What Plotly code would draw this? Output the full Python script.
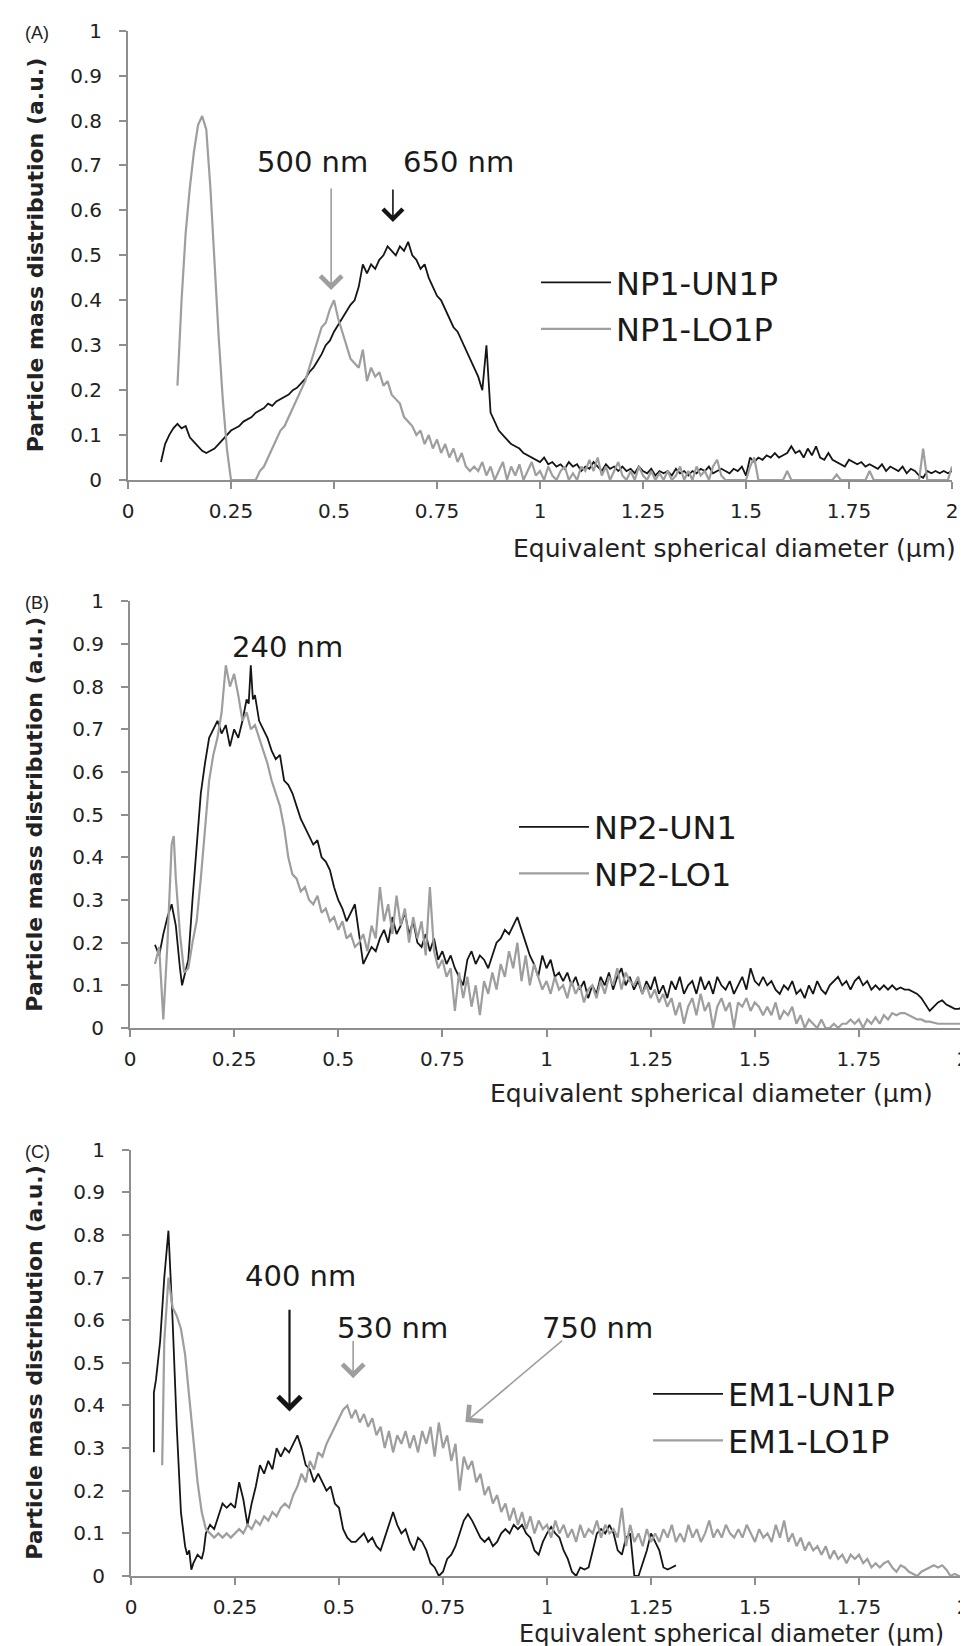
import plotly.graph_objects as go

# ---------------- DATA ----------------
TICK_X = [0, 0.25, 0.5, 0.75, 1, 1.25, 1.5, 1.75, 2]
TICK_X_TEXT = ["0", "0.25", "0.5", "0.75", "1", "1.25", "1.5", "1.75", "2"]
TICK_Y = [0, 0.1, 0.2, 0.3, 0.4, 0.5, 0.6, 0.7, 0.8, 0.9, 1]
TICK_Y_TEXT = ["0", "0.1", "0.2", "0.3", "0.4", "0.5", "0.6", "0.7", "0.8", "0.9", "1"]

# Panel A : NP1-UN1P (black)
A_UN_X = [0.08, 0.09, 0.10, 0.11, 0.12, 0.13, 0.14, 0.15, 0.16, 0.17, 0.18, 0.19, 0.20, 0.21, 0.22, 0.23, 0.24, 0.25,
          0.26, 0.27, 0.28, 0.29, 0.30, 0.31, 0.32, 0.33, 0.34, 0.35, 0.36, 0.37, 0.38, 0.39, 0.40, 0.41, 0.42, 0.43,
          0.44, 0.45, 0.46, 0.47, 0.48, 0.49, 0.50, 0.51, 0.52, 0.53, 0.54, 0.55, 0.56, 0.57, 0.58, 0.59, 0.60, 0.61,
          0.62, 0.63, 0.64, 0.65, 0.66, 0.67, 0.68, 0.69, 0.70, 0.71, 0.72, 0.73, 0.74, 0.75, 0.76, 0.77, 0.78, 0.79,
          0.80, 0.81, 0.82, 0.83, 0.84, 0.85, 0.86, 0.87, 0.88, 0.89, 0.90, 0.91, 0.92, 0.93, 0.94, 0.95, 0.96, 0.97,
          0.98, 0.99, 1.00, 1.01, 1.02, 1.03, 1.04, 1.05, 1.06, 1.07, 1.08, 1.09, 1.10, 1.11, 1.12, 1.13, 1.14, 1.15,
          1.16, 1.17, 1.18, 1.19, 1.20, 1.21, 1.22, 1.23, 1.24, 1.25, 1.26, 1.27, 1.28, 1.29, 1.30, 1.31, 1.32, 1.33,
          1.34, 1.35, 1.36, 1.37, 1.38, 1.39, 1.40, 1.41, 1.42, 1.43, 1.44, 1.45, 1.46, 1.47, 1.48, 1.49, 1.50, 1.51,
          1.52, 1.53, 1.54, 1.55, 1.56, 1.57, 1.58, 1.59, 1.60, 1.61, 1.62, 1.63, 1.64, 1.65, 1.66, 1.67, 1.68, 1.69,
          1.70, 1.71, 1.72, 1.73, 1.74, 1.75, 1.76, 1.77, 1.78, 1.79, 1.80, 1.81, 1.82, 1.83, 1.84, 1.85, 1.86, 1.87,
          1.88, 1.89, 1.90, 1.91, 1.92, 1.93, 1.94, 1.95, 1.96, 1.97, 1.98, 1.99, 2.00]
A_UN_Y = [0.04, 0.08, 0.10, 0.115, 0.125, 0.115, 0.12, 0.095, 0.085, 0.075, 0.065, 0.06, 0.065, 0.07, 0.08, 0.09, 0.10, 0.11,
          0.115, 0.12, 0.13, 0.135, 0.14, 0.15, 0.155, 0.16, 0.17, 0.165, 0.175, 0.18, 0.185, 0.19, 0.20, 0.205, 0.215, 0.225,
          0.24, 0.25, 0.265, 0.28, 0.30, 0.31, 0.33, 0.345, 0.36, 0.375, 0.39, 0.40, 0.43, 0.48, 0.46, 0.48, 0.47, 0.49,
          0.50, 0.52, 0.51, 0.50, 0.52, 0.51, 0.53, 0.50, 0.49, 0.47, 0.48, 0.45, 0.43, 0.41, 0.40, 0.38, 0.36, 0.34,
          0.33, 0.31, 0.29, 0.27, 0.25, 0.23, 0.20, 0.30, 0.15, 0.13, 0.11, 0.10, 0.09, 0.08, 0.075, 0.07, 0.06, 0.055,
          0.05, 0.045, 0.04, 0.05, 0.035, 0.04, 0.03, 0.035, 0.025, 0.04, 0.03, 0.035, 0.02, 0.03, 0.025, 0.04, 0.03, 0.02,
          0.035, 0.025, 0.03, 0.02, 0.03, 0.02, 0.025, 0.015, 0.03, 0.02, 0.015, 0.025, 0.01, 0.02, 0.015, 0.02, 0.01, 0.025,
          0.015, 0.02, 0.01, 0.02, 0.015, 0.025, 0.02, 0.03, 0.015, 0.02, 0.025, 0.02, 0.015, 0.025, 0.02, 0.03, 0.01, 0.05,
          0.04, 0.05, 0.045, 0.055, 0.05, 0.06, 0.05, 0.055, 0.06, 0.075, 0.06, 0.065, 0.05, 0.07, 0.055, 0.075, 0.05, 0.045,
          0.06, 0.045, 0.04, 0.035, 0.03, 0.045, 0.04, 0.035, 0.04, 0.03, 0.035, 0.03, 0.025, 0.035, 0.02, 0.03, 0.025, 0.02,
          0.03, 0.015, 0.025, 0.02, 0.01, 0.005, 0.02, 0.015, 0.02, 0.015, 0.02, 0.015, 0.02]

# Panel A : NP1-LO1P (grey)
A_LO_X = [0.12, 0.13, 0.14, 0.15, 0.16, 0.17, 0.18, 0.19, 0.20, 0.21, 0.22, 0.23, 0.24, 0.25, 0.26, 0.27, 0.28, 0.29,
          0.30, 0.31, 0.32, 0.33, 0.34, 0.35, 0.36, 0.37, 0.38, 0.39, 0.40, 0.41, 0.42, 0.43, 0.44, 0.45, 0.46, 0.47,
          0.48, 0.49, 0.50, 0.51, 0.52, 0.53, 0.54, 0.55, 0.56, 0.57, 0.58, 0.59, 0.60, 0.61, 0.62, 0.63, 0.64, 0.65,
          0.66, 0.67, 0.68, 0.69, 0.70, 0.71, 0.72, 0.73, 0.74, 0.75, 0.76, 0.77, 0.78, 0.79, 0.80, 0.81, 0.82, 0.83,
          0.84, 0.85, 0.86, 0.87, 0.88, 0.89, 0.90, 0.91, 0.92, 0.93, 0.94, 0.95, 0.96, 0.97, 0.98, 0.99, 1.00, 1.01,
          1.02, 1.03, 1.04, 1.05, 1.06, 1.07, 1.08, 1.09, 1.10, 1.11, 1.12, 1.13, 1.14, 1.15, 1.16, 1.17, 1.18, 1.19,
          1.20, 1.21, 1.22, 1.23, 1.24, 1.25, 1.26, 1.27, 1.28, 1.29, 1.30, 1.31, 1.32, 1.33, 1.34, 1.35, 1.36, 1.37,
          1.38, 1.39, 1.40, 1.41, 1.42, 1.43, 1.44, 1.45, 1.50, 1.51, 1.52, 1.53, 1.59, 1.60, 1.61, 1.71, 1.72, 1.73,
          1.79, 1.80, 1.81, 1.92, 1.93, 1.94, 1.99, 2.00]
A_LO_Y = [0.21, 0.40, 0.55, 0.65, 0.73, 0.79, 0.81, 0.78, 0.65, 0.48, 0.32, 0.18, 0.07, 0.0, 0.0, 0.0, 0.0, 0.0,
          0.0, 0.0, 0.02, 0.03, 0.05, 0.07, 0.09, 0.11, 0.12, 0.14, 0.16, 0.18, 0.20, 0.22, 0.25, 0.28, 0.31, 0.34,
          0.35, 0.38, 0.40, 0.36, 0.33, 0.30, 0.27, 0.26, 0.25, 0.29, 0.22, 0.25, 0.23, 0.24, 0.21, 0.22, 0.19, 0.18,
          0.17, 0.14, 0.13, 0.12, 0.10, 0.11, 0.08, 0.10, 0.07, 0.09, 0.06, 0.08, 0.05, 0.07, 0.04, 0.06, 0.03, 0.02,
          0.03, 0.02, 0.04, 0.01, 0.03, 0.0, 0.02, 0.04, 0.0, 0.03, 0.01, 0.035, 0.0, 0.02, 0.04, 0.01, 0.02, 0.0,
          0.03, 0.01, 0.0, 0.02, 0.03, 0.0, 0.015, 0.0, 0.03, 0.02, 0.045, 0.02, 0.05, 0.01, 0.03, 0.0, 0.02, 0.04,
          0.01, 0.0, 0.02, 0.0, 0.03, 0.01, 0.0, 0.02, 0.0, 0.015, 0.0, 0.02, 0.0, 0.01, 0.03, 0.0, 0.02, 0.0,
          0.03, 0.01, 0.02, 0.0, 0.03, 0.045, 0.01, 0.0, 0.0, 0.03, 0.05, 0.0, 0.0, 0.02, 0.0, 0.0, 0.012, 0.0,
          0.0, 0.02, 0.0, 0.0, 0.07, 0.0, 0.0, 0.03]

# Panel B : NP2-UN1 (black)
B_UN_X = [0.06, 0.07, 0.08, 0.09, 0.10, 0.11, 0.12, 0.125, 0.13, 0.14, 0.15, 0.16, 0.17, 0.18, 0.19, 0.20, 0.21, 0.22,
          0.23, 0.24, 0.25, 0.26, 0.27, 0.28, 0.285, 0.29, 0.295, 0.30, 0.31, 0.32, 0.33, 0.34, 0.35, 0.36, 0.37, 0.38,
          0.39, 0.40, 0.41, 0.42, 0.43, 0.44, 0.45, 0.46, 0.47, 0.48, 0.49, 0.50, 0.51, 0.52, 0.53, 0.54, 0.55, 0.56,
          0.57, 0.58, 0.59, 0.60, 0.61, 0.62, 0.63, 0.64, 0.65, 0.66, 0.67, 0.68, 0.69, 0.70, 0.71, 0.72, 0.73, 0.74,
          0.75, 0.76, 0.77, 0.78, 0.79, 0.80, 0.81, 0.82, 0.83, 0.84, 0.85, 0.86, 0.87, 0.88, 0.89, 0.90, 0.91, 0.92,
          0.93, 0.94, 0.95, 0.96, 0.97, 0.98, 0.99, 1.00, 1.01, 1.02, 1.03, 1.04, 1.05, 1.06, 1.07, 1.08, 1.09, 1.10,
          1.11, 1.12, 1.13, 1.14, 1.15, 1.16, 1.17, 1.18, 1.19, 1.20, 1.21, 1.22, 1.23, 1.24, 1.25, 1.26, 1.27, 1.28,
          1.29, 1.30, 1.31, 1.32, 1.33, 1.34, 1.35, 1.36, 1.37, 1.38, 1.39, 1.40, 1.41, 1.42, 1.43, 1.44, 1.45, 1.46,
          1.47, 1.48, 1.49, 1.50, 1.51, 1.52, 1.53, 1.54, 1.55, 1.56, 1.57, 1.58, 1.59, 1.60, 1.61, 1.62, 1.63, 1.64,
          1.65, 1.66, 1.67, 1.68, 1.69, 1.70, 1.71, 1.72, 1.73, 1.74, 1.75, 1.76, 1.77, 1.78, 1.79, 1.80, 1.81, 1.82,
          1.83, 1.84, 1.85, 1.86, 1.87, 1.88, 1.89, 1.90, 1.91, 1.92, 1.93, 1.94, 1.95, 1.96, 1.97, 1.98, 1.99, 2.00]
B_UN_Y = [0.195, 0.17, 0.22, 0.26, 0.29, 0.24, 0.14, 0.10, 0.12, 0.16, 0.30, 0.42, 0.55, 0.62, 0.68, 0.70, 0.72, 0.69,
          0.71, 0.66, 0.70, 0.68, 0.72, 0.77, 0.76, 0.85, 0.77, 0.78, 0.72, 0.70, 0.68, 0.65, 0.63, 0.64, 0.58, 0.57,
          0.55, 0.52, 0.49, 0.47, 0.45, 0.43, 0.44, 0.40, 0.39, 0.37, 0.33, 0.30, 0.28, 0.25, 0.27, 0.29, 0.22, 0.15,
          0.17, 0.19, 0.18, 0.21, 0.23, 0.20, 0.26, 0.22, 0.24, 0.27, 0.22, 0.25, 0.20, 0.19, 0.22, 0.18, 0.21, 0.16,
          0.18, 0.15, 0.17, 0.14, 0.12, 0.10, 0.16, 0.18, 0.15, 0.17, 0.16, 0.14, 0.17, 0.20, 0.21, 0.23, 0.22, 0.24,
          0.26, 0.23, 0.20, 0.17, 0.15, 0.12, 0.17, 0.14, 0.16, 0.12, 0.13, 0.11, 0.13, 0.10, 0.12, 0.09, 0.11, 0.07,
          0.10, 0.08, 0.12, 0.10, 0.13, 0.09, 0.12, 0.14, 0.10, 0.12, 0.09, 0.11, 0.08, 0.11, 0.09, 0.12, 0.08, 0.10,
          0.07, 0.11, 0.09, 0.12, 0.08, 0.10, 0.11, 0.08, 0.12, 0.09, 0.11, 0.08, 0.12, 0.10, 0.09, 0.11, 0.08, 0.10,
          0.12, 0.09, 0.14, 0.11, 0.10, 0.12, 0.10, 0.11, 0.09, 0.08, 0.10, 0.09, 0.11, 0.08, 0.09, 0.07, 0.10, 0.08,
          0.11, 0.09, 0.08, 0.10, 0.11, 0.12, 0.10, 0.11, 0.09, 0.11, 0.12, 0.10, 0.11, 0.09, 0.10, 0.09, 0.10, 0.09,
          0.10, 0.09, 0.095, 0.09, 0.09, 0.085, 0.08, 0.07, 0.055, 0.04, 0.05, 0.06, 0.065, 0.055, 0.05, 0.045, 0.045, 0.05]

# Panel B : NP2-LO1 (grey)
B_LO_X = [0.06, 0.07, 0.08, 0.09, 0.10, 0.105, 0.11, 0.12, 0.13, 0.14, 0.15, 0.16, 0.17, 0.18, 0.19, 0.20, 0.21, 0.22,
          0.23, 0.24, 0.25, 0.26, 0.27, 0.28, 0.29, 0.30, 0.31, 0.32, 0.33, 0.34, 0.35, 0.36, 0.37, 0.38, 0.39, 0.40,
          0.41, 0.42, 0.43, 0.44, 0.45, 0.46, 0.47, 0.48, 0.49, 0.50, 0.51, 0.52, 0.53, 0.54, 0.55, 0.56, 0.57, 0.58,
          0.59, 0.60, 0.61, 0.62, 0.63, 0.64, 0.65, 0.66, 0.67, 0.68, 0.69, 0.70, 0.71, 0.72, 0.73, 0.74, 0.75, 0.76,
          0.77, 0.78, 0.79, 0.80, 0.81, 0.82, 0.83, 0.84, 0.85, 0.86, 0.87, 0.88, 0.89, 0.90, 0.91, 0.92, 0.93, 0.94,
          0.95, 0.96, 0.97, 0.98, 0.99, 1.00, 1.01, 1.02, 1.03, 1.04, 1.05, 1.06, 1.07, 1.08, 1.09, 1.10, 1.11, 1.12,
          1.13, 1.14, 1.15, 1.16, 1.17, 1.18, 1.19, 1.20, 1.21, 1.22, 1.23, 1.24, 1.25, 1.26, 1.27, 1.28, 1.29, 1.30,
          1.31, 1.32, 1.33, 1.34, 1.35, 1.36, 1.37, 1.38, 1.39, 1.40, 1.41, 1.42, 1.43, 1.44, 1.45, 1.46, 1.47, 1.48,
          1.49, 1.50, 1.51, 1.52, 1.53, 1.54, 1.55, 1.56, 1.57, 1.58, 1.59, 1.60, 1.61, 1.62, 1.63, 1.64, 1.65, 1.66,
          1.67, 1.68, 1.69, 1.70, 1.71, 1.72, 1.73, 1.74, 1.75, 1.76, 1.77, 1.78, 1.79, 1.80, 1.81, 1.82, 1.83, 1.84,
          1.85, 1.86, 1.87, 1.88, 1.89, 1.90, 1.91, 1.92, 1.93, 1.94, 1.95, 1.96, 1.97, 1.98, 1.99, 2.00]
B_LO_Y = [0.15, 0.19, 0.02, 0.20, 0.43, 0.45, 0.35, 0.22, 0.13, 0.14, 0.20, 0.25, 0.35, 0.47, 0.58, 0.64, 0.68, 0.74,
          0.85, 0.80, 0.83, 0.78, 0.72, 0.74, 0.70, 0.71, 0.68, 0.65, 0.62, 0.58, 0.55, 0.52, 0.47, 0.40, 0.36, 0.35,
          0.32, 0.33, 0.30, 0.29, 0.31, 0.27, 0.28, 0.25, 0.26, 0.23, 0.25, 0.21, 0.22, 0.19, 0.20, 0.22, 0.18, 0.24,
          0.21, 0.33, 0.25, 0.29, 0.22, 0.31, 0.24, 0.28, 0.20, 0.26, 0.21, 0.25, 0.17, 0.33, 0.18, 0.14, 0.16, 0.12,
          0.14, 0.04, 0.13, 0.07, 0.12, 0.05, 0.10, 0.03, 0.11, 0.08, 0.13, 0.09, 0.15, 0.12, 0.18, 0.14, 0.20, 0.11,
          0.17, 0.10, 0.15, 0.12, 0.09, 0.11, 0.08, 0.12, 0.09, 0.10, 0.07, 0.11, 0.08, 0.10, 0.06, 0.09, 0.10, 0.07,
          0.11, 0.08, 0.12, 0.10, 0.14, 0.09, 0.13, 0.11, 0.10, 0.12, 0.08, 0.10, 0.07, 0.09, 0.06, 0.08, 0.05, 0.07,
          0.03, 0.06, 0.01, 0.05, 0.07, 0.03, 0.08, 0.04, 0.06, 0.00, 0.05, 0.07, 0.04, 0.06, 0.00, 0.06, 0.05, 0.07,
          0.04, 0.06, 0.05, 0.03, 0.05, 0.03, 0.06, 0.02, 0.04, 0.03, 0.05, 0.01, 0.03, 0.00, 0.02, 0.01, 0.00, 0.02,
          0.00, 0.00, 0.01, 0.00, 0.01, 0.01, 0.02, 0.01, 0.02, 0.00, 0.02, 0.01, 0.025, 0.01, 0.03, 0.02, 0.035, 0.03,
          0.035, 0.035, 0.03, 0.025, 0.02, 0.02, 0.015, 0.015, 0.012, 0.01, 0.01, 0.01, 0.01, 0.01, 0.01, 0.01]

# Panel C : EM1-UN1P (black)
C_UN_X = [0.055, 0.055, 0.06, 0.07, 0.08, 0.09, 0.10, 0.11, 0.12, 0.13, 0.135, 0.14, 0.145, 0.15, 0.16, 0.17, 0.175, 0.18,
          0.19, 0.20, 0.21, 0.22, 0.23, 0.24, 0.25, 0.26, 0.27, 0.28, 0.29, 0.30, 0.31, 0.32, 0.33, 0.34, 0.35, 0.36,
          0.37, 0.38, 0.39, 0.40, 0.41, 0.42, 0.43, 0.44, 0.45, 0.46, 0.47, 0.48, 0.49, 0.50, 0.51, 0.52, 0.53, 0.54,
          0.55, 0.56, 0.57, 0.58, 0.59, 0.60, 0.61, 0.62, 0.63, 0.64, 0.65, 0.66, 0.67, 0.68, 0.69, 0.70, 0.71, 0.72,
          0.73, 0.74, 0.75, 0.76, 0.77, 0.78, 0.79, 0.80, 0.81, 0.82, 0.83, 0.84, 0.85, 0.86, 0.87, 0.88, 0.89, 0.90,
          0.91, 0.92, 0.93, 0.94, 0.95, 0.96, 0.97, 0.98, 0.99, 1.00, 1.01, 1.02, 1.03, 1.04, 1.05, 1.06, 1.07, 1.08,
          1.09, 1.10, 1.11, 1.12, 1.13, 1.14, 1.15, 1.16, 1.17, 1.18, 1.19, 1.20, 1.21, 1.22, 1.23, 1.24, 1.25, 1.26,
          1.27, 1.28, 1.29, 1.30, 1.31]
C_UN_Y = [0.29, 0.43, 0.46, 0.55, 0.70, 0.81, 0.60, 0.35, 0.15, 0.07, 0.05, 0.06, 0.015, 0.03, 0.05, 0.04, 0.06, 0.10,
          0.12, 0.11, 0.14, 0.17, 0.16, 0.17, 0.16, 0.22, 0.18, 0.12, 0.17, 0.21, 0.26, 0.24, 0.27, 0.25, 0.30, 0.28,
          0.30, 0.29, 0.31, 0.33, 0.30, 0.26, 0.25, 0.22, 0.24, 0.22, 0.20, 0.21, 0.17, 0.16, 0.11, 0.09, 0.08, 0.08,
          0.09, 0.10, 0.08, 0.09, 0.07, 0.06, 0.09, 0.12, 0.15, 0.12, 0.10, 0.11, 0.08, 0.06, 0.09, 0.08, 0.06, 0.03,
          0.02, 0.00, 0.01, 0.04, 0.05, 0.07, 0.10, 0.13, 0.145, 0.13, 0.11, 0.09, 0.08, 0.09, 0.07, 0.08, 0.10, 0.11,
          0.10, 0.12, 0.11, 0.12, 0.10, 0.09, 0.06, 0.05, 0.08, 0.10, 0.115, 0.10, 0.09, 0.06, 0.04, 0.01, 0.00, 0.02,
          0.015, 0.02, 0.06, 0.10, 0.11, 0.10, 0.12, 0.10, 0.06, 0.05, 0.09, 0.10, 0.00, 0.00, 0.03, 0.06, 0.10, 0.08,
          0.06, 0.02, 0.015, 0.02, 0.025]

# Panel C : EM1-LO1P (grey)
C_LO_X = [0.075, 0.08, 0.09, 0.10, 0.11, 0.12, 0.13, 0.14, 0.15, 0.16, 0.17, 0.18, 0.19, 0.20, 0.21, 0.22, 0.23, 0.24,
          0.25, 0.26, 0.27, 0.28, 0.29, 0.30, 0.31, 0.32, 0.33, 0.34, 0.35, 0.36, 0.37, 0.38, 0.39, 0.40, 0.41, 0.42,
          0.43, 0.44, 0.45, 0.46, 0.47, 0.48, 0.49, 0.50, 0.51, 0.52, 0.53, 0.54, 0.55, 0.56, 0.57, 0.58, 0.59, 0.60,
          0.61, 0.62, 0.63, 0.64, 0.65, 0.66, 0.67, 0.68, 0.69, 0.70, 0.71, 0.72, 0.73, 0.74, 0.75, 0.76, 0.77, 0.78,
          0.79, 0.80, 0.81, 0.82, 0.83, 0.84, 0.85, 0.86, 0.87, 0.88, 0.89, 0.90, 0.91, 0.92, 0.93, 0.94, 0.95, 0.96,
          0.97, 0.98, 0.99, 1.00, 1.01, 1.02, 1.03, 1.04, 1.05, 1.06, 1.07, 1.08, 1.09, 1.10, 1.11, 1.12, 1.13, 1.14,
          1.15, 1.16, 1.17, 1.18, 1.19, 1.20, 1.21, 1.22, 1.23, 1.24, 1.25, 1.26, 1.27, 1.28, 1.29, 1.30, 1.31, 1.32,
          1.33, 1.34, 1.35, 1.36, 1.37, 1.38, 1.39, 1.40, 1.41, 1.42, 1.43, 1.44, 1.45, 1.46, 1.47, 1.48, 1.49, 1.50,
          1.51, 1.52, 1.53, 1.54, 1.55, 1.56, 1.57, 1.58, 1.59, 1.60, 1.61, 1.62, 1.63, 1.64, 1.65, 1.66, 1.67, 1.68,
          1.69, 1.70, 1.71, 1.72, 1.73, 1.74, 1.75, 1.76, 1.77, 1.78, 1.79, 1.80, 1.81, 1.82, 1.83, 1.84, 1.85, 1.86,
          1.87, 1.88, 1.89, 1.90, 1.91, 1.92, 1.93, 1.94, 1.95, 1.96, 1.97, 1.98, 1.99, 2.00]
C_LO_Y = [0.26, 0.55, 0.70, 0.63, 0.61, 0.58, 0.52, 0.42, 0.32, 0.22, 0.15, 0.11, 0.10, 0.09, 0.10, 0.09, 0.10, 0.09,
          0.10, 0.11, 0.10, 0.12, 0.11, 0.13, 0.12, 0.14, 0.13, 0.15, 0.14, 0.16, 0.17, 0.16, 0.19, 0.21, 0.24, 0.22,
          0.27, 0.25, 0.29, 0.28, 0.31, 0.33, 0.35, 0.37, 0.39, 0.40, 0.37, 0.39, 0.36, 0.38, 0.35, 0.37, 0.33, 0.35,
          0.30, 0.34, 0.29, 0.33, 0.31, 0.34, 0.30, 0.33, 0.29, 0.34, 0.31, 0.35, 0.28, 0.36, 0.30, 0.33, 0.27, 0.31,
          0.20, 0.28, 0.25, 0.27, 0.22, 0.24, 0.19, 0.21, 0.17, 0.19, 0.15, 0.17, 0.13, 0.16, 0.12, 0.15, 0.11, 0.14,
          0.10, 0.13, 0.11, 0.12, 0.09, 0.13, 0.10, 0.12, 0.09, 0.11, 0.08, 0.12, 0.09, 0.11, 0.10, 0.13, 0.09, 0.12,
          0.10, 0.11, 0.09, 0.16, 0.07, 0.12, 0.08, 0.10, 0.07, 0.11, 0.08, 0.10, 0.08, 0.11, 0.09, 0.12, 0.08, 0.10,
          0.08, 0.12, 0.09, 0.11, 0.08, 0.10, 0.13, 0.09, 0.11, 0.09, 0.12, 0.10, 0.09, 0.11, 0.09, 0.12, 0.10, 0.08,
          0.11, 0.09, 0.10, 0.08, 0.12, 0.09, 0.13, 0.08, 0.10, 0.07, 0.09, 0.06, 0.08, 0.06, 0.07, 0.05, 0.07, 0.04,
          0.06, 0.04, 0.05, 0.03, 0.05, 0.04, 0.05, 0.03, 0.04, 0.02, 0.03, 0.02, 0.03, 0.035, 0.02, 0.01, 0.025, 0.02,
          0.01, 0.005, 0.0, 0.01, 0.015, 0.02, 0.025, 0.02, 0.025, 0.015, 0.0, 0.005, 0.0, 0.0]

NAMES = ["NP1-UN1P", "NP1-LO1P", "NP2-UN1", "NP2-LO1", "EM1-UN1P", "EM1-LO1P"]
PANEL_LABELS = ["(A)", "(B)", "(C)"]
X_TITLE = "Equivalent spherical diameter (µm)"
Y_TITLE = "Particle mass distribution (a.u.)"

# ---------------- STYLE / LAYOUT ----------------
W, H = 968, 1646
BLACK = "#151515"
GREY = "#9e9e9e"
AXIS = "#8e8e8e"
FONT = "DejaVu Sans"


def px(xp):
    return xp / W


def py(yp):
    return 1 - yp / H


# pixel geometry of each panel: (x0, x2, ytop(=1), ybottom(=0))
PANELS = [(120, 944, 22.7, 472), (122, 955, 593.3, 1020), (123, 955, 1141.7, 1568)]

fig = go.Figure()

series = [(A_UN_X, A_UN_Y, A_LO_X, A_LO_Y), (B_UN_X, B_UN_Y, B_LO_X, B_LO_Y), (C_UN_X, C_UN_Y, C_LO_X, C_LO_Y)]
for i, (ux, uy, lx, ly) in enumerate(series):
    sfx = "" if i == 0 else str(i + 1)
    leg = "legend" if i == 0 else "legend" + str(i + 1)
    fig.add_trace(go.Scatter(x=ux, y=uy, mode="lines", name=NAMES[2 * i],
                             line=dict(color=BLACK, width=1.8), xaxis="x" + sfx, yaxis="y" + sfx,
                             legend=leg, legendgroup=NAMES[2 * i]))
    fig.add_trace(go.Scatter(x=lx, y=ly, mode="lines", name=NAMES[2 * i + 1],
                             line=dict(color=GREY, width=2.2), xaxis="x" + sfx, yaxis="y" + sfx,
                             legend=leg, legendgroup=NAMES[2 * i + 1]))

layout = dict(template="none", width=W, height=H, margin=dict(l=0, r=0, t=0, b=0, autoexpand=False),
              paper_bgcolor="white", plot_bgcolor="white", showlegend=True)

axcommon = dict(showline=True, linecolor=AXIS, linewidth=2, ticks="outside", ticklen=7, tickwidth=2,
                tickcolor=AXIS, showgrid=False, zeroline=False, automargin=False,
                tickfont=dict(family=FONT, size=20, color="#222222"))

annotations = []
for i, (x0, x2, yt, yb) in enumerate(PANELS):
    sfx = "" if i == 0 else str(i + 1)
    layout["xaxis" + sfx] = dict(axcommon, domain=[px(x0), px(x2)], range=[0, 2], tickvals=TICK_X,
                                 ticktext=TICK_X_TEXT, anchor="y" + sfx, ticklabelstandoff=5)
    layout["yaxis" + sfx] = dict(axcommon, domain=[py(yb), py(yt)], range=[0, 1], tickvals=TICK_Y,
                                 ticktext=TICK_Y_TEXT, anchor="x" + sfx, ticklabelstandoff=13)
    # panel label
    annotations.append(dict(text=PANEL_LABELS[i], xref="paper", yref="paper", x=px(29), y=py(yt + 2),
                            showarrow=False, font=dict(family="Liberation Sans", size=18, color="#222"),
                            xanchor="center", yanchor="middle"))
    # y title
    annotations.append(dict(text=Y_TITLE, xref="paper", yref="paper", x=px(27), y=py((yt + yb) / 2),
                            showarrow=False, textangle=-90,
                            font=dict(family=FONT, size=22, color="#222", weight="bold"),
                            xanchor="center", yanchor="middle"))

# x titles (right aligned)
for xr, yc, fs in [(950, 540, 25), (927, 1085, 25), (938, 1626, 24)]:
    annotations.append(dict(text=X_TITLE, xref="paper", yref="paper", x=px(xr), y=py(yc), showarrow=False,
                            xanchor="right", yanchor="middle", font=dict(family=FONT, size=fs, color="#222")))

# peak labels (data coordinates)
LBL = dict(showarrow=False, font=dict(family=FONT, size=29, color="#1a1a1a"), xanchor="center", yanchor="middle")
annotations += [
    dict(LBL, text="500 nm", x=0.447, y=0.708, xref="x", yref="y"),
    dict(LBL, text="650 nm", x=0.801, y=0.708, xref="x", yref="y"),
    dict(LBL, text="240 nm", x=0.377, y=0.893, xref="x2", yref="y2"),
    dict(LBL, text="400 nm", x=0.408, y=0.704, xref="x3", yref="y3"),
    dict(LBL, text="530 nm", x=0.628, y=0.581, xref="x3", yref="y3"),
    dict(LBL, text="750 nm", x=1.122, y=0.581, xref="x3", yref="y3"),
]


def arrow(xh, yh, xt, yt_, ax_, col, wid, size):
    return dict(text="", x=xh, y=yh, ax=xt, ay=yt_, xref="x" + ax_, yref="y" + ax_, axref="x" + ax_,
                ayref="y" + ax_, showarrow=True, arrowhead=4, arrowsize=size, arrowwidth=wid,
                arrowcolor=col, standoff=0, startstandoff=0)


annotations += [
    arrow(0.493, 0.423, 0.493, 0.652, "", GREY, 1.6, 2.6),
    arrow(0.643, 0.574, 0.643, 0.650, "", BLACK, 1.6, 2.4),
    arrow(0.381, 0.386, 0.381, 0.628, "3", BLACK, 2.2, 2.0),
    arrow(0.534, 0.464, 0.534, 0.555, "3", GREY, 1.6, 2.6),
    arrow(0.804, 0.361, 1.040, 0.555, "3", GREY, 1.6, 2.6),
]
layout["annotations"] = annotations

LEG = dict(font=dict(family=FONT, size=32, color="#1a1a1a"), bgcolor="rgba(0,0,0,0)", borderwidth=0,
           xanchor="left", yanchor="middle", tracegroupgap=2, itemclick=False, itemwidth=70)
layout["legend"] = dict(LEG, x=px(528), y=py(298))
layout["legend2"] = dict(LEG, x=px(506), y=py(842.5))
layout["legend3"] = dict(LEG, x=px(640), y=py(1409.5))

fig.update_layout(**layout)
fig.write_html("out.html")
